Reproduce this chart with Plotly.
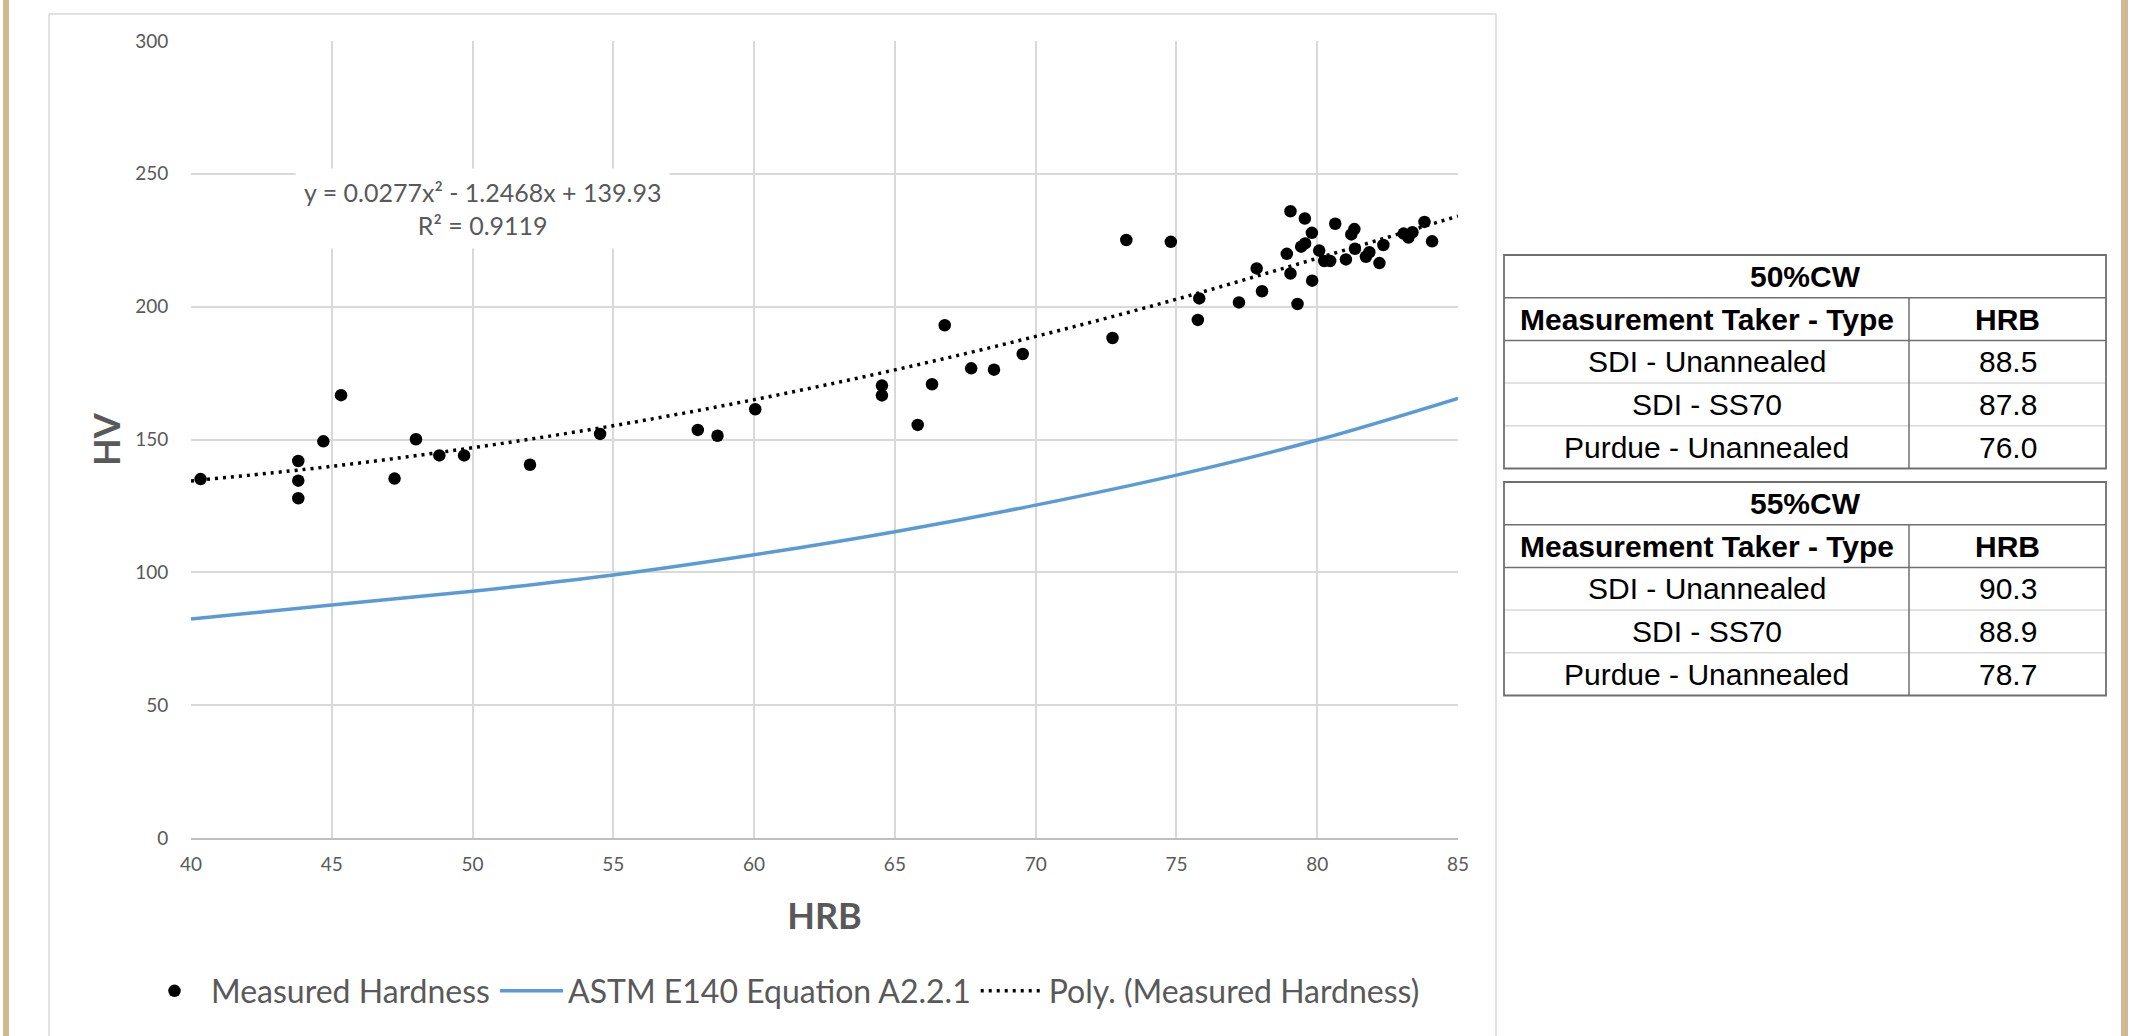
import plotly.graph_objects as go

# ---------------- data ----------------
hrb_measured = [40.34, 43.81, 43.81, 43.81, 44.70, 45.33, 47.23, 47.99, 48.82, 49.70,
                52.04, 54.53, 58.00, 58.70, 60.04, 64.54, 64.54, 65.81, 66.32, 66.77,
                67.71, 68.52, 69.54, 72.73, 73.22, 74.80, 75.76, 75.81, 77.22, 77.85,
                78.04, 79.05, 78.92, 79.05, 79.30, 79.56, 79.81, 79.43, 79.57, 79.82,
                80.07, 80.25, 80.46, 80.64, 81.02, 81.21, 81.32, 81.34, 81.73, 81.85,
                82.21, 82.35, 83.07, 83.24, 83.38, 83.81, 84.08]
hv_measured = [135.1, 141.9, 134.5, 127.9, 149.3, 166.7, 135.3, 150.1, 144.0, 144.0,
               140.5, 152.1, 153.6, 151.4, 161.4, 170.3, 166.6, 155.5, 170.8, 193.0,
               176.8, 176.3, 182.2, 188.2, 225.1, 224.4, 195.0, 203.1, 201.6, 214.4,
               205.8, 235.9, 219.9, 212.5, 201.0, 233.2, 227.8, 222.6, 223.8, 209.8,
               221.1, 217.2, 217.2, 231.2, 217.8, 227.2, 229.2, 221.8, 218.8, 220.5,
               216.4, 223.2, 227.5, 226.0, 228.0, 231.9, 224.6]

astm_hrb = [40, 45, 50, 55, 60, 65, 70, 75, 80, 85]
astm_hv = [82.4, 87.7, 92.9, 99.0, 106.6, 115.3, 125.3, 136.6, 149.8, 165.5]

poly_hrb = [40, 45, 50, 55, 60, 65, 70, 75, 80, 85]
poly_hv = [134.4, 139.9, 146.9, 155.2, 165.0, 176.2, 188.8, 202.8, 218.2, 234.1]

x_ticks = [40, 45, 50, 55, 60, 65, 70, 75, 80, 85]
y_ticks = [0, 50, 100, 150, 200, 250, 300]

series_names = ["Measured Hardness", "ASTM E140 Equation A2.2.1", "Poly. (Measured Hardness)"]
trend_label = "y = 0.0277x² - 1.2468x + 139.93<br>R² = 0.9119"

table_titles = ["50%CW", "55%CW"]
table_headers = ["Measurement Taker - Type", "HRB"]
taker_types = ["SDI - Unannealed", "SDI - SS70", "Purdue - Unannealed"]
hrb_50cw = [88.5, 87.8, 76.0]
hrb_55cw = [90.3, 88.9, 78.7]

# ---------------- layout geometry (pixels) ----------------
W, H = 2153, 1036
PL, PR, PT, PB = 191, 1458, 41, 838   # plot area edges


def px(xp):
    return (xp - PL) / (PR - PL)


def py(yp):
    return (PB - yp) / (PB - PT)


CHART_FONT = "Lato"
TABLE_FONT = "Liberation Sans"
GRAY_TXT = "#595959"

fig = go.Figure()

fig.add_trace(go.Scatter(
    x=astm_hrb, y=astm_hv, mode="lines", name=series_names[1],
    line=dict(color="#5B9BD5", width=3.5, shape="spline"), legendrank=2))
fig.add_trace(go.Scatter(
    x=poly_hrb, y=poly_hv, mode="lines", name=series_names[2],
    line=dict(color="black", width=3.5, dash="3px,5px", shape="spline"), legendrank=3))
fig.add_trace(go.Scatter(
    x=hrb_measured, y=hv_measured, mode="markers", name=series_names[0],
    marker=dict(color="black", size=12.5, line=dict(width=0)), legendrank=1))

shapes = []
# beige page strips
for x0, x1 in [(3, 9), (2121, 2128)]:
    shapes.append(dict(type="rect", xref="paper", yref="paper", x0=px(x0), x1=px(x1),
                       y0=py(H), y1=py(0), fillcolor="#CFB991", line=dict(width=0), layer="below"))
# chart-area border
for (x0, y0, x1, y1) in [(49, 14, 1496, 14), (49, 14, 49, H + 5), (1496, 14, 1496, H + 5)]:
    shapes.append(dict(type="line", xref="paper", yref="paper", x0=px(x0), x1=px(x1),
                       y0=py(y0), y1=py(y1), line=dict(color="#D9D9D9", width=1.5), layer="below"))

annotations = []
# trendline equation label
annotations.append(dict(x=50.35, y=236.8, xref="x", yref="y", text=trend_label, showarrow=False,
                        font=dict(family=CHART_FONT, size=25, color=GRAY_TXT), bgcolor="white",
                        borderpad=8, align="center"))

# ---------------- tables ----------------
TL, TR, TD = 1504, 2106, 1909
ROW_H = 42.7
TABLE_TOPS = [255, 482]
DARK = "#6F6F6F"
LIGHT = "#D9D9D9"
for t_idx, (title, vals) in enumerate(zip(table_titles, [hrb_50cw, hrb_55cw])):
    top = TABLE_TOPS[t_idx]
    rows = 2 + len(vals)
    bottom = top + rows * ROW_H
    for r in range(3, rows):
        yy = top + r * ROW_H
        shapes.append(dict(type="line", xref="paper", yref="paper", x0=px(TL), x1=px(TR),
                           y0=py(yy), y1=py(yy), line=dict(color=LIGHT, width=1.5)))
    for r in (1, 2):
        yy = top + r * ROW_H
        shapes.append(dict(type="line", xref="paper", yref="paper", x0=px(TL), x1=px(TR),
                           y0=py(yy), y1=py(yy), line=dict(color=DARK, width=1.5)))
    shapes.append(dict(type="line", xref="paper", yref="paper", x0=px(TD), x1=px(TD),
                       y0=py(top + ROW_H), y1=py(bottom), line=dict(color=DARK, width=1.5)))
    shapes.append(dict(type="rect", xref="paper", yref="paper", x0=px(TL), x1=px(TR),
                       y0=py(bottom), y1=py(top), line=dict(color=DARK, width=1.8)))
    c1 = (TL + TD) / 2
    c2 = (TD + TR) / 2

    def cell(text, xc, r, bold=False):
        yc = top + (r + 0.5) * ROW_H
        annotations.append(dict(x=px(xc), y=py(yc), xref="paper", yref="paper",
                                text=f"<b>{text}</b>" if bold else text, showarrow=False,
                                xanchor="center", yanchor="middle",
                                font=dict(family=TABLE_FONT, size=30, color="black")))

    cell(title, (TL + TR) / 2, 0, bold=True)
    cell(table_headers[0], c1, 1, bold=True)
    cell(table_headers[1], c2, 1, bold=True)
    for i, (name, v) in enumerate(zip(taker_types, vals)):
        cell(name, c1, 2 + i)
        cell(f"{v:.1f}", c2, 2 + i)

fig.update_layout(
    width=W, height=H,
    margin=dict(l=PL, r=W - PR, t=PT, b=H - PB, autoexpand=False),
    paper_bgcolor="white", plot_bgcolor="white",
    showlegend=True,
    legend=dict(orientation="h", x=px(138), y=py(991), xanchor="left", yanchor="middle",
                font=dict(family=CHART_FONT, size=32, color=GRAY_TXT),
                bgcolor="rgba(0,0,0,0)", itemwidth=63, traceorder="normal"),
    shapes=shapes, annotations=annotations,
)
fig.update_xaxes(range=[40, 85], tickvals=x_ticks, showgrid=True, gridcolor="#D9D9D9", gridwidth=1.5,
                 zeroline=False, showline=True, linecolor="#BFBFBF", linewidth=1.8,
                 ticks="outside", ticklen=8, tickcolor="rgba(0,0,0,0)",
                 tickfont=dict(family=CHART_FONT, size=19, color=GRAY_TXT),
                 title=dict(text="<b>HRB</b>", standoff=30,
                            font=dict(family=CHART_FONT, size=36, color=GRAY_TXT)))
fig.update_yaxes(range=[0, 300], tickvals=y_ticks, showgrid=True, gridcolor="#D9D9D9", gridwidth=1.5,
                 zeroline=False, showline=False,
                 ticks="outside", ticklen=18, tickcolor="rgba(0,0,0,0)",
                 tickfont=dict(family=CHART_FONT, size=19, color=GRAY_TXT),
                 title=dict(text="<b>HV</b>", standoff=3,
                            font=dict(family=CHART_FONT, size=36, color=GRAY_TXT)))

fig.write_html("out.html")
